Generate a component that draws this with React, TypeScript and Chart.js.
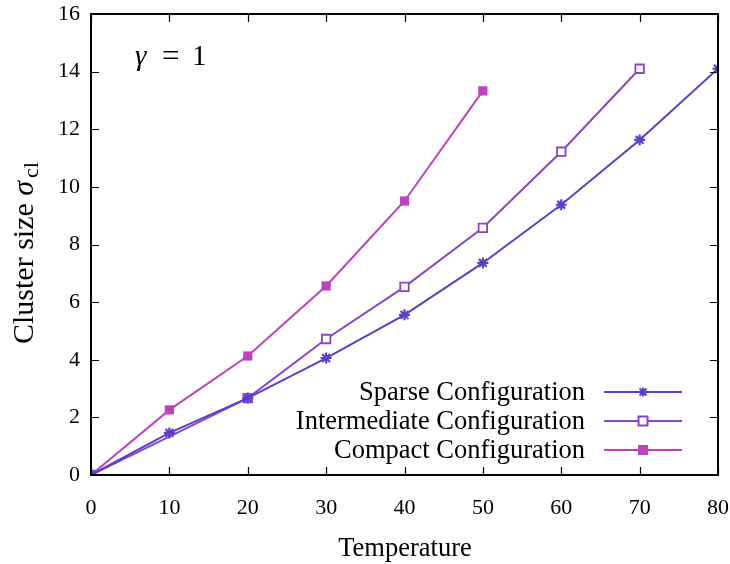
import React, { useEffect, useRef } from "react";
import { Chart, registerables } from "chart.js";

Chart.register(...registerables);

const sparseT = [0, 10, 20, 30, 40, 50, 60, 70, 80];
const sparseV = [0, 1.46, 2.67, 4.06, 5.56, 7.36, 9.38, 11.63, 14.1];
const interT = [0, 20, 30, 40, 50, 60, 70];
const interV = [0, 2.67, 4.72, 6.53, 8.58, 11.22, 14.1];
const compactT = [0, 10, 20, 30, 40, 50];
const compactV = [0, 2.26, 4.13, 6.56, 9.51, 13.33];

const seriesNames = ["Sparse Configuration", "Intermediate Configuration", "Compact Configuration"];
const colors = ["#5a3fc8", "#8b45cc", "#c040c0"];
const xTicks = [0, 10, 20, 30, 40, 50, 60, 70, 80];
const yTicks = [0, 2, 4, 6, 8, 10, 12, 14, 16];

const FONT = "'Liberation Serif', 'DejaVu Serif', serif";

const toXY = (t: number[], v: number[]) => t.map((x, i) => ({ x, y: v[i] }));

const decorPlugin = {
  id: "decor",
  afterDatasetsDraw(chart: any) {
    const { ctx, chartArea: a, scales } = chart;
    const xs = scales.x, ys = scales.y;
    ctx.save();
    ctx.strokeStyle = "#000";
    ctx.lineWidth = 1.2;
    const tl = 8;
    ctx.beginPath();
    xTicks.forEach((v) => {
      const px = Math.round(xs.getPixelForValue(v)) + 0.5;
      ctx.moveTo(px, a.bottom); ctx.lineTo(px, a.bottom - tl);
      ctx.moveTo(px, a.top); ctx.lineTo(px, a.top + tl);
    });
    yTicks.forEach((v) => {
      const py = Math.round(ys.getPixelForValue(v)) + 0.5;
      ctx.moveTo(a.left, py); ctx.lineTo(a.left + tl, py);
      ctx.moveTo(a.right, py); ctx.lineTo(a.right - tl, py);
    });
    ctx.stroke();
    ctx.lineWidth = 2;
    ctx.strokeRect(a.left, a.top, a.right - a.left, a.bottom - a.top);

    // legend
    ctx.font = `26.5px ${FONT}`;
    ctx.textAlign = "right";
    ctx.textBaseline = "middle";
    const rows = [392, 421, 450];
    const styles = ["star", "rectOpen", "rectFilled"];
    seriesNames.forEach((name, i) => {
      const y = rows[i];
      ctx.fillStyle = "#000";
      ctx.fillText(name, 585, y + 1);
      ctx.strokeStyle = colors[i];
      ctx.lineWidth = 2;
      ctx.beginPath();
      ctx.moveTo(604, y); ctx.lineTo(682, y);
      ctx.stroke();
      const cx = 643;
      if (styles[i] === "star") {
        ctx.lineWidth = 2;
        ctx.beginPath();
        ctx.moveTo(cx - 4.5, y); ctx.lineTo(cx + 4.5, y);
        ctx.moveTo(cx, y - 4.5); ctx.lineTo(cx, y + 4.5);
        ctx.moveTo(cx - 3.5, y - 3.5); ctx.lineTo(cx + 3.5, y + 3.5);
        ctx.moveTo(cx - 3.5, y + 3.5); ctx.lineTo(cx + 3.5, y - 3.5);
        ctx.stroke();
      } else if (styles[i] === "rectOpen") {
        ctx.fillStyle = "#fff";
        ctx.fillRect(cx - 4.5, y - 4.5, 9, 9);
        ctx.strokeRect(cx - 4.5, y - 4.5, 9, 9);
      } else {
        ctx.fillStyle = colors[i];
        ctx.fillRect(cx - 5, y - 5, 10, 10);
      }
    });

    // gamma label
    ctx.fillStyle = "#000";
    ctx.textAlign = "left";
    ctx.textBaseline = "alphabetic";
    ctx.font = `italic 29px ${FONT}`;
    ctx.fillText("γ", 135, 65);
    ctx.font = `31px ${FONT}`;
    ctx.fillText("=", 162, 66);
    ctx.font = `29px ${FONT}`;
    ctx.fillText("1", 192, 65);

    // x title
    ctx.font = `26.5px ${FONT}`;
    ctx.textAlign = "center";
    ctx.textBaseline = "alphabetic";
    ctx.fillText("Temperature", 405, 556);

    // y title
    ctx.save();
    ctx.translate(33, 253);
    ctx.rotate(-Math.PI / 2);
    ctx.textBaseline = "alphabetic";
    ctx.textAlign = "left";
    const part1 = "Cluster size ";
    ctx.font = `30px ${FONT}`;
    const w1 = ctx.measureText(part1).width;
    ctx.font = `italic 30px ${FONT}`;
    const w2 = ctx.measureText("σ").width;
    ctx.font = `22px ${FONT}`;
    const w3 = ctx.measureText("cl").width;
    const total = w1 + w2 + 3 + w3;
    let x0 = -total / 2;
    ctx.font = `30px ${FONT}`;
    ctx.fillText(part1, x0, 0);
    x0 += w1;
    ctx.font = `italic 30px ${FONT}`;
    ctx.fillText("σ", x0, 0);
    x0 += w2 + 3;
    ctx.font = `22px ${FONT}`;
    ctx.fillText("cl", x0, 5);
    ctx.restore();

    ctx.restore();
  },
};

export default function App() {
  const ref = useRef<HTMLCanvasElement>(null);
  useEffect(() => {
    if (!ref.current) return;
    const chart = new Chart(ref.current, {
      type: "scatter",
      data: {
        datasets: [
          {
            label: seriesNames[0],
            data: toXY(sparseT, sparseV),
            showLine: true,
            borderColor: colors[0],
            backgroundColor: colors[0],
            borderWidth: 2,
            pointStyle: "star",
            pointRadius: 5.5,
            pointBorderWidth: 2.2,
          },
          {
            label: seriesNames[1],
            data: toXY(interT, interV),
            showLine: true,
            borderColor: colors[1],
            backgroundColor: "#ffffff",
            borderWidth: 2,
            pointStyle: "rect",
            pointRadius: 6,
            pointBorderWidth: 1.8,
          },
          {
            label: seriesNames[2],
            data: toXY(compactT, compactV),
            showLine: true,
            borderColor: colors[2],
            backgroundColor: colors[2],
            borderWidth: 2,
            pointStyle: "rect",
            pointRadius: 6.5,
            pointBorderWidth: 0,
          },
        ],
      },
      options: {
        animation: false,
        responsive: false,
        maintainAspectRatio: false,
        layout: { padding: { left: 0, top: 14, right: 12, bottom: 0 } },
        plugins: { legend: { display: false }, tooltip: { enabled: false } },
        scales: {
          x: {
            type: "linear",
            min: 0,
            max: 80,
            afterFit: (s: any) => { s.height = 89; s.paddingLeft = 0; s.paddingRight = 0; },
            afterBuildTicks: (s: any) => { s.ticks = xTicks.map((v) => ({ value: v })); },
            grid: { display: false, drawTicks: false },
            border: { display: false },
            ticks: { color: "#000", font: { family: FONT, size: 22 }, padding: 20, maxRotation: 0 },
          },
          y: {
            type: "linear",
            min: 0,
            max: 16,
            afterFit: (s: any) => { s.width = 91; s.paddingTop = 0; s.paddingBottom = 0; },
            afterBuildTicks: (s: any) => { s.ticks = yTicks.map((v) => ({ value: v })); },
            grid: { display: false, drawTicks: false },
            border: { display: false },
            ticks: { color: "#000", font: { family: FONT, size: 22 }, padding: 11 },
          },
        },
      },
      plugins: [decorPlugin],
    });
    return () => chart.destroy();
  }, []);
  return (
    <div style={{ position: "fixed", left: 0, top: 0, width: 730, height: 564, background: "#fff" }}>
      <canvas ref={ref} width={730} height={564} style={{ width: 730, height: 564 }} />
    </div>
  );
}
